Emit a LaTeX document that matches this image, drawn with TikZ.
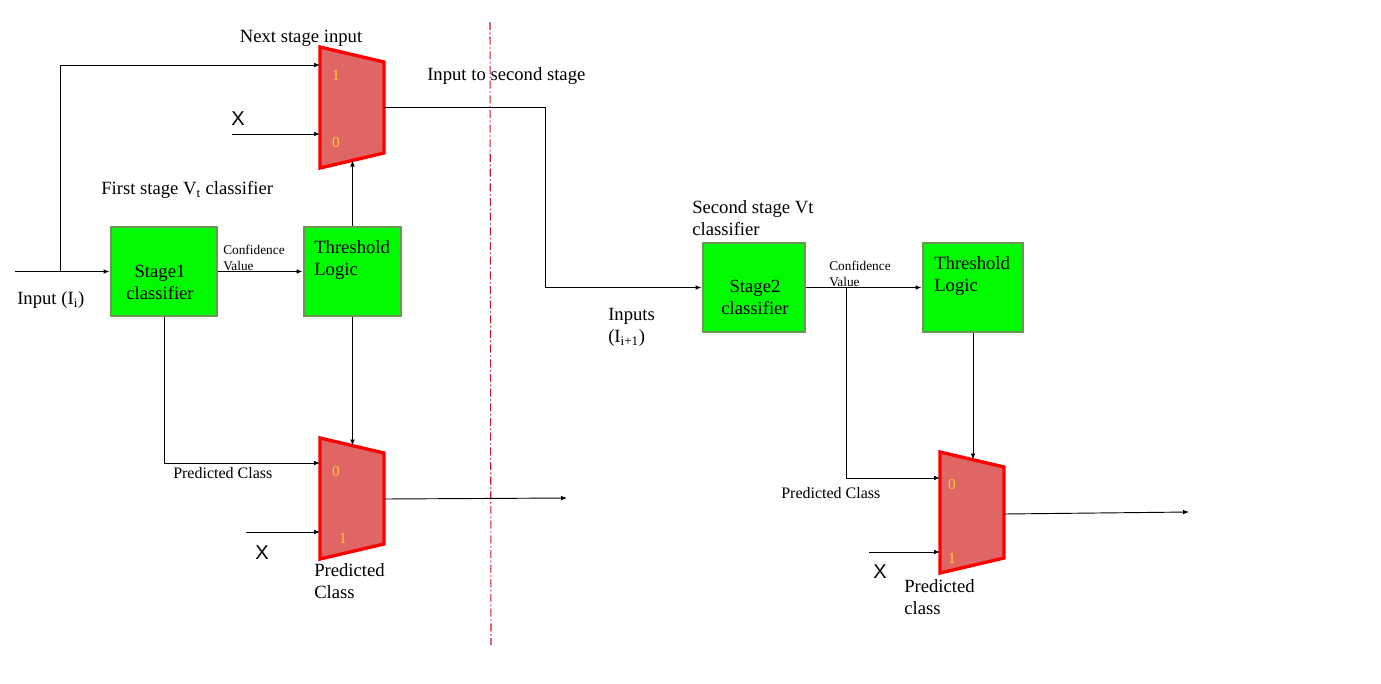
\documentclass[tikz,border=0pt]{standalone}
\usepackage{fontspec}
\setmainfont{Liberation Serif}
\newfontfamily\xfont{Liberation Sans}
\usetikzlibrary{arrows.meta}
\definecolor{boxgreen}{RGB}{0,250,0}
\definecolor{boxedge}{RGB}{106,150,90}
\definecolor{muxfill}{RGB}{224,102,102}
\definecolor{muxedge}{RGB}{255,0,0}
\definecolor{portnum}{RGB}{255,204,51}
\definecolor{cutline}{RGB}{200,20,40}
\tikzset{
  classbox/.style={draw=boxedge, line width=2.2pt, fill=boxgreen, minimum width=75pt, minimum height=66.75pt, inner sep=0pt},
  muxbody/.style={draw=muxedge, line width=2.5pt, fill=muxfill, line join=miter},
  wire/.style={line width=0.7pt, -{Latex[length=4.5pt,width=3.5pt]}},
  plainwire/.style={line width=0.7pt},
  lbl/.style={font=\fontsize{14}{16.5}\selectfont, inner sep=0pt, align=left},
  smalllbl/.style={font=\fontsize{12}{14}\selectfont, inner sep=0pt, align=left},
  tinylbl/.style={font=\fontsize{10}{12}\selectfont, inner sep=0pt, align=left},
  portlbl/.style={font=\fontsize{11.5}{13}\selectfont, text=portnum, inner sep=0pt},
  xlbl/.style={font=\xfont\fontsize{15}{17}\selectfont, inner sep=0pt},
}
% mux body, #1 = top left corner
\newcommand{\muxat}[1]{\draw[muxbody] (#1) -- ++(64,15) -- ++(0,91) -- ++(-64,15) -- cycle;}
\begin{document}
\begin{tikzpicture}[x=0.75pt,y=-0.75pt]
\useasboundingbox (0,0) rectangle (1381,683);

%%% stage divider
\coordinate (cuttop) at (490,22);
\coordinate (cutbot) at (491,645);
\draw[cutline, line width=0.8pt, dash pattern=on 6pt off 2pt on 1pt off 2pt] (cuttop) -- (cutbot);

%%% first stage
\node[classbox, minimum width=79.5pt] (s1) at (164,271.5) {};
\node[lbl, align=center] (s1txt) at (160,282) {Stage1\\classifier};
\node[classbox, minimum width=72.75pt] (th1) at (352.5,271.5) {};
\node[lbl, anchor=west] (th1txt) at (314,260) {Threshold\\Logic};
\node[lbl, anchor=west] (s1title) at (101,190) {First stage V\textsubscript{t} classifier};
\node[lbl, anchor=west] (in1txt) at (17,300) {Input (I\textsubscript{i})};
\node[tinylbl, anchor=west] (cv1) at (223,258) {Confidence\\Value};

% upper mux: next stage input
\muxat{320,47}
\node[portlbl] (m1p1) at (336,75) {1};
\node[portlbl] (m1p0) at (336,142) {0};
\coordinate (m1in1) at (320,65);
\coordinate (m1in0) at (320,134);
\coordinate (m1out) at (384,107);
\coordinate (m1sel) at (352.5,160.5);
\node[lbl] (m1title) at (301,38) {Next stage input};
\node[lbl, anchor=west] (m1outtxt) at (427,76) {Input to second stage};
\node[xlbl] (x1) at (238,119) {X};

% lower mux: predicted class
\muxat{320,438}
\node[portlbl] (m2p0) at (336,471) {0};
\node[portlbl] (m2p1) at (343,538) {1};
\coordinate (m2in0) at (320,463);
\coordinate (m2in1) at (320,532);
\coordinate (m2out) at (384,499);
\coordinate (m2sel) at (352.5,445.5);
\node[smalllbl, anchor=west] (pc1) at (173,473) {Predicted Class};
\node[lbl, anchor=west] (m2txt) at (314,581) {Predicted\\Class};
\node[xlbl] (x2) at (262,553) {X};

% wires of the first stage
\coordinate (in1) at (15,271.5);
\coordinate (br1) at (60,271.5);
\coordinate (x1from) at (232,134);
\coordinate (x2from) at (246,532);
\coordinate (out2) at (567,498);
\draw[wire] (in1) -- (s1.west);
\draw[wire] (br1) |- (m1in1);
\draw[wire] (x1from) -- (m1in0);
\draw[wire] (s1.east) -- (th1.west);
\draw[wire] (th1.north) -- (m1sel);
\draw[wire] (th1.south) -- (m2sel);
\draw[wire] (s1.south) |- (m2in0);
\draw[wire] (x2from) -- (m2in1);
\draw[wire] (m2out) -- (out2);

%%% second stage
\node[classbox, minimum width=76.5pt] (s2) at (754,287.5) {};
\node[lbl, align=center] (s2txt) at (755,297) {Stage2\\classifier};
\node[classbox] (th2) at (973,287.5) {};
\node[lbl, anchor=west] (th2txt) at (934,276) {Threshold\\Logic};
\node[lbl, anchor=west] (s2title) at (692,218) {Second stage Vt\\classifier};
\node[lbl, anchor=west] (in2txt) at (608,327) {Inputs\\(I\textsubscript{i+1})};
\node[tinylbl, anchor=west] (cv2) at (829,274) {Confidence\\Value};

% output mux of the second stage
\muxat{940,452}
\node[portlbl] (m3p0) at (952,484) {0};
\node[portlbl] (m3p1) at (952,558) {1};
\coordinate (m3in0) at (940,478);
\coordinate (m3in1) at (940,552);
\coordinate (m3out) at (1004,514);
\coordinate (m3sel) at (973,459.5);
\node[smalllbl, anchor=west] (pc2) at (781,493) {Predicted Class};
\node[lbl, anchor=west] (m3txt) at (904,597) {Predicted\\class};
\node[xlbl] (x3) at (880,572) {X};

% wires of the second stage
\coordinate (turn1) at (545,107);
\coordinate (br2) at (846,287.5);
\coordinate (x3from) at (869,552);
\coordinate (out3) at (1189,512);
\draw[wire] (m1out) -- (turn1) |- (s2.west);
\draw[wire] (s2.east) -- (th2.west);
\draw[wire] (br2) |- (m3in0);
\draw[wire] (th2.south) -- (m3sel);
\draw[wire] (x3from) -- (m3in1);
\draw[wire] (m3out) -- (out3);
\end{tikzpicture}
\end{document}
